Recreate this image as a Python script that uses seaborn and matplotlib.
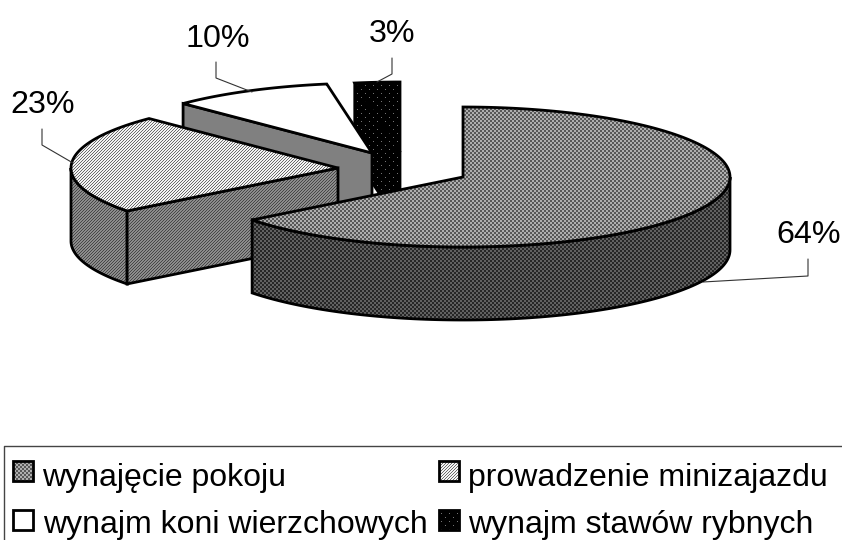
import numpy as np
import matplotlib
matplotlib.use("Agg")
import matplotlib.pyplot as plt
from matplotlib.patches import Polygon
import seaborn as sns

# --- data ---
categories = ["wynajęcie pokoju", "prowadzenie minizajazdu",
              "wynajm koni wierzchowych", "wynajm stawów rybnych"]
shares = [64.49, 23.0, 9.8, 2.71]

# --- layout ---
W, H = 842, 540
RX, RY, DEPTH = 267, 70, 73
apexes = [(463, 177), (338, 168), (372, 153), (400, 152)]
label_pos = [(776, 243), (10, 113), (185, 47), (369, 42)]
leaders = [[(703, 282), (808, 276), (808, 259)],
           [(73, 163), (42, 145), (42, 129)],
           [(252, 92), (216, 78), (216, 62)],
           [(377, 82), (392, 74), (392, 58)]]
legend_swatch = [(13, 461), (439, 461), (13, 510), (439, 510)]
legend_text = [(42, 486), (468, 486), (43, 533), (468, 533)]
LW = 2.0

sns.set_theme(style="white")
plt.rcParams["font.family"] = ["Liberation Sans", "DejaVu Sans"]

fig = plt.figure(figsize=(W / 100, H / 100), dpi=100)
ax = fig.add_axes([0, 0, 1, 1])


def pattern(tile):
    t = np.array(tile, dtype=float)
    ny, nx = H // t.shape[0] + 1, W // t.shape[1] + 1
    return np.tile(t, (ny, nx))[:H, :W]


def checker(a, b):
    return [[a, a, b, b], [a, a, b, b], [b, b, a, a], [b, b, a, a]]


def diagonal(a, b):
    return [[a, a, b], [a, b, a], [b, a, a]]


P_TOP = pattern(checker(.68, .34))
P_SIDE = pattern(checker(.38, .15))
P_LIGHT_TOP = pattern(diagonal(.95, .42))
P_LIGHT_SIDE = pattern(diagonal(.55, .28))
P_WHITE = pattern([[1.0]])
P_GREY = pattern([[.5]])
black_tile = np.zeros((8, 8))
black_tile[1, 1] = black_tile[5, 5] = .45
P_BLACK = pattern(black_tile)

styles = [
    dict(top=P_TOP, side=P_SIDE, cut=None),
    dict(top=P_LIGHT_TOP, side=P_LIGHT_SIDE, cut=P_LIGHT_SIDE),
    dict(top=P_WHITE, side=P_WHITE, cut=P_GREY),
    dict(top=P_BLACK, side=P_BLACK, cut=P_BLACK),
]
swatch_fill = [P_TOP, P_LIGHT_TOP, P_WHITE, P_BLACK]


def fill(pts, img, z):
    patch = Polygon(pts, closed=True, facecolor="none", edgecolor="black",
                    linewidth=LW, joinstyle="miter", zorder=z + .1)
    ax.add_patch(patch)
    im = ax.imshow(img, extent=(0, W, H, 0), cmap="gray", vmin=0, vmax=1,
                   interpolation="nearest", aspect="auto", zorder=z)
    im.set_clip_path(patch)


def rim(c, t):
    t = np.radians(t)
    return np.column_stack([c[0] + RX * np.sin(t), c[1] - RY * np.cos(t)])


edges = np.concatenate([[0], np.cumsum(shares)]) * 3.6
# draw from the back slice to the front slice
for i in [3, 2, 1, 0]:
    c, t0, t1 = apexes[i], edges[i], edges[i + 1]
    z = 10 * (4 - i)
    st = styles[i]
    # outer wall, only the part facing the viewer
    a, b = max(t0, 90), min(t1, 270)
    if a < b:
        arc = rim(c, np.linspace(a, b, 120))
        wall = np.vstack([arc, (arc + [0, DEPTH])[::-1]])
        fill(wall, st["side"], z)
    # cut wall facing the viewer
    if st["cut"] is not None:
        p = rim(c, np.array([t0]))[0]
        cut = [c, p, p + [0, DEPTH], np.array(c) + [0, DEPTH]]
        fill(cut, st["cut"], z + 1)
    # top surface
    top = np.vstack([[c], rim(c, np.linspace(t0, t1, 200))])
    fill(top, st["top"], z + 2)

for share, pos, line in zip(shares, label_pos, leaders):
    ax.text(pos[0], pos[1], f"{round(share)}%", fontsize=23.2, color="black",
            ha="left", va="baseline", zorder=60)
    xs, ys = zip(*line)
    ax.plot(xs, ys, color="#333333", lw=0.8, zorder=5 if line is leaders[0] else 55)

# legend
ax.plot([4, 4, W], [H, 446, 446], color="#444444", lw=1.0, zorder=60)
for name, sw, tx, img in zip(categories, legend_swatch, legend_text, swatch_fill):
    x, y = sw
    fill([(x, y), (x + 20, y), (x + 20, y + 20), (x, y + 20)], img, 70)
    ax.text(tx[0], tx[1], name, fontsize=23.0, color="black",
            ha="left", va="baseline", zorder=75)

ax.set_xlim(0, W)
ax.set_ylim(H, 0)
ax.set_axis_off()
sns.despine(ax=ax, left=True, bottom=True)
fig.savefig("out.png", dpi=100, facecolor="white")
